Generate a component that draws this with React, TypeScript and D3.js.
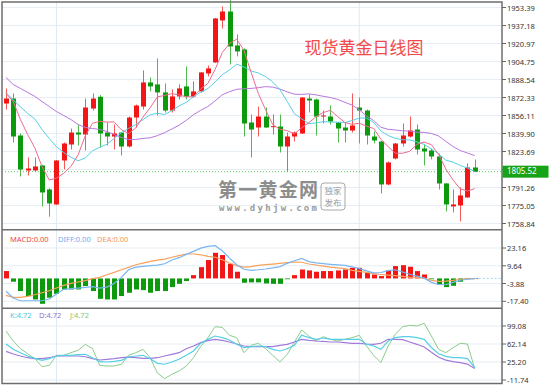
import React from 'react';
import * as d3 from 'd3';

// daily candles
const opens = [1866.9, 1871.4, 1838.1, 1806.6, 1806.6, 1811.1, 1789.5, 1776.0, 1815.6, 1830.0, 1840.8, 1839.0, 1862.4, 1873.0, 1840.8, 1837.2, 1840.8, 1828.2, 1854.3, 1864.2, 1885.9, 1884.1, 1876.9, 1860.6, 1873.3, 1882.3, 1873.3, 1877.8, 1894.0, 1903.9, 1941.7, 1949.8, 1919.2, 1915.6, 1849.8, 1845.3, 1855.2, 1846.0, 1846.2, 1828.2, 1837.2, 1839.9, 1871.4, 1870.5, 1855.2, 1855.2, 1849.8, 1845.3, 1842.6, 1863.3, 1860.6, 1837.2, 1832.7, 1794.0, 1817.4, 1830.9, 1837.2, 1843.5, 1826.4, 1824.6, 1819.2, 1794.9, 1774.2, 1775.1, 1782.3, 1809.3];
const highs = [1880.5, 1876.0, 1839.9, 1818.3, 1818.3, 1811.5, 1790.5, 1816.0, 1831.8, 1844.4, 1848.0, 1871.4, 1876.0, 1874.5, 1849.8, 1848.0, 1841.2, 1855.2, 1866.0, 1896.7, 1890.4, 1907.5, 1885.0, 1879.6, 1884.1, 1900.3, 1886.8, 1895.3, 1901.2, 1944.0, 1954.3, 1960.0, 1929.1, 1916.5, 1857.0, 1864.2, 1863.3, 1857.0, 1857.0, 1840.8, 1841.7, 1872.8, 1875.1, 1871.4, 1860.6, 1865.1, 1850.2, 1849.8, 1876.0, 1872.3, 1861.5, 1841.7, 1833.0, 1814.7, 1831.3, 1848.9, 1855.2, 1848.0, 1830.0, 1826.4, 1821.9, 1795.3, 1789.5, 1791.3, 1812.9, 1816.5];
const lows = [1861.5, 1831.8, 1801.2, 1802.1, 1805.7, 1774.2, 1765.0, 1775.5, 1807.5, 1825.5, 1829.1, 1824.6, 1860.6, 1827.3, 1829.1, 1825.5, 1820.1, 1827.3, 1845.3, 1861.5, 1877.8, 1856.1, 1858.8, 1858.8, 1870.5, 1870.5, 1872.3, 1876.9, 1891.3, 1903.5, 1934.5, 1902.1, 1909.3, 1837.2, 1818.3, 1837.2, 1845.0, 1839.0, 1822.8, 1805.7, 1832.7, 1839.5, 1858.8, 1838.1, 1849.0, 1848.0, 1831.8, 1831.8, 1840.8, 1830.9, 1830.0, 1830.9, 1785.9, 1793.1, 1816.5, 1828.2, 1836.3, 1821.0, 1811.1, 1816.5, 1789.5, 1769.7, 1768.8, 1760.7, 1782.0, 1805.2];
const closes = [1871.4, 1837.2, 1807.5, 1808.4, 1810.2, 1786.8, 1776.9, 1815.6, 1830.9, 1840.8, 1839.0, 1863.3, 1871.4, 1839.9, 1837.2, 1839.9, 1828.2, 1854.3, 1865.1, 1885.9, 1882.3, 1876.9, 1860.6, 1873.3, 1880.5, 1873.3, 1877.8, 1894.9, 1898.5, 1943.5, 1949.8, 1918.3, 1913.8, 1848.9, 1843.5, 1855.2, 1845.3, 1846.5, 1828.2, 1837.2, 1840.8, 1872.3, 1869.6, 1855.2, 1856.1, 1850.7, 1844.4, 1842.6, 1847.1, 1860.6, 1838.1, 1833.6, 1794.0, 1813.8, 1830.9, 1838.1, 1842.6, 1825.5, 1823.7, 1819.2, 1794.9, 1776.0, 1776.0, 1784.1, 1809.3, 1805.5];

const ma5 = [1876.0, 1868.7, 1852.5, 1839.0, 1826.9, 1810.0, 1798.0, 1799.6, 1804.1, 1810.2, 1820.6, 1837.9, 1849.1, 1850.9, 1850.2, 1850.3, 1843.3, 1839.9, 1844.9, 1854.7, 1863.2, 1872.9, 1874.2, 1875.8, 1874.7, 1872.9, 1873.1, 1880.0, 1885.0, 1897.6, 1912.9, 1921.0, 1924.8, 1914.9, 1894.9, 1875.9, 1861.3, 1847.9, 1843.7, 1842.5, 1839.6, 1845.0, 1849.6, 1855.0, 1858.8, 1860.8, 1855.2, 1849.8, 1848.2, 1849.1, 1846.6, 1844.4, 1834.7, 1828.0, 1822.1, 1822.1, 1823.9, 1830.2, 1832.2, 1829.8, 1821.2, 1807.9, 1798.0, 1790.0, 1788.1, 1790.2];
const ma10 = [1876.9, 1870.0, 1864.0, 1858.0, 1853.0, 1843.5, 1835.4, 1828.0, 1822.8, 1818.6, 1815.3, 1817.9, 1824.3, 1827.5, 1830.2, 1835.5, 1840.6, 1844.5, 1847.9, 1852.4, 1856.8, 1858.1, 1857.0, 1860.4, 1864.7, 1868.0, 1873.0, 1877.1, 1880.4, 1886.2, 1892.9, 1897.1, 1902.4, 1899.9, 1896.2, 1894.4, 1891.2, 1886.3, 1879.3, 1868.7, 1857.8, 1853.2, 1848.8, 1849.4, 1850.6, 1850.2, 1850.1, 1849.7, 1851.6, 1853.9, 1853.7, 1849.8, 1842.2, 1838.1, 1835.6, 1834.3, 1834.1, 1832.4, 1830.1, 1826.0, 1821.6, 1815.9, 1814.1, 1811.1, 1808.9, 1805.7];
const ma20 = [1890.3, 1884.1, 1880.5, 1876.9, 1873.3, 1868.7, 1864.2, 1859.7, 1856.1, 1852.5, 1848.0, 1845.3, 1844.4, 1843.5, 1841.7, 1839.0, 1836.3, 1834.5, 1834.5, 1835.5, 1836.0, 1838.0, 1840.7, 1843.9, 1847.4, 1851.8, 1856.8, 1860.8, 1864.2, 1869.3, 1874.8, 1877.6, 1879.7, 1880.2, 1880.5, 1881.2, 1882.1, 1881.7, 1879.9, 1877.4, 1875.3, 1875.1, 1875.6, 1874.7, 1873.4, 1872.3, 1870.6, 1868.0, 1865.5, 1861.3, 1855.7, 1851.5, 1845.5, 1843.7, 1843.1, 1842.3, 1842.1, 1841.1, 1840.9, 1840.0, 1837.7, 1832.8, 1828.2, 1824.6, 1822.3, 1820.0];

const macdHist = [5.6, -2.5, -9.6, -13.4, -16.0, -19.3, -14.7, -11.7, -8.4, -8.4, -8.4, -5.8, -9.6, -15.5, -16.0, -16.0, -13.4, -10.9, -8.4, -8.9, -10.9, -9.6, -9.6, -6.6, -4.1, -2.0, 2.5, 8.6, 14.0, 19.5, 17.8, 11.2, 5.1, -3.3, -3.0, -3.0, -3.8, -4.1, -4.1, -0.6, 2.5, 6.8, 6.1, 5.1, 5.6, 5.6, 6.1, 6.8, 8.1, 8.1, 4.3, 3.0, 1.8, 6.1, 9.4, 10.1, 8.9, 5.6, 3.0, -0.4, -4.6, -6.6, -5.6, -2.5, -0.5, 0.2];
const diffLine = [-9.8, -14.9, -17.0, -17.0, -17.0, -17.0, -15.7, -11.9, -8.3, -7.8, -7.3, -6.8, -6.3, -7.3, -6.6, -3.8, 0.8, 6.6, 8.6, 9.2, 9.7, 10.2, 11.2, 14.0, 15.8, 18.3, 20.6, 23.1, 24.4, 24.9, 21.1, 15.5, 10.4, 7.0, 6.2, 6.6, 7.2, 8.0, 9.0, 11.5, 13.5, 15.2, 12.8, 11.8, 11.2, 10.7, 10.3, 10.0, 8.8, 7.5, 5.7, 4.2, 4.5, 5.9, 6.6, 4.9, 3.2, 1.7, 0.2, -3.0, -4.6, -4.8, -3.0, -1.4, -0.6, -0.2];
const deaLine = [-12.9, -14.4, -14.4, -13.6, -12.4, -10.9, -9.4, -7.3, -5.3, -3.8, -2.7, -1.7, -0.2, 0.8, 2.8, 4.6, 6.6, 8.4, 10.4, 11.7, 13.0, 14.0, 14.7, 16.1, 17.3, 18.6, 18.6, 18.0, 16.8, 16.1, 14.2, 11.7, 9.8, 8.6, 9.0, 10.0, 10.5, 10.9, 11.4, 12.0, 12.5, 12.3, 11.0, 10.2, 9.4, 8.6, 8.0, 7.4, 6.2, 5.4, 4.6, 3.6, 3.0, 2.5, 2.1, 1.6, 1.0, 0.6, 0.3, -1.5, -2.2, -2.0, -1.5, -0.6, -0.2, -0.2];

const kLine = [62.0, 51.2, 44.3, 37.5, 32.7, 28.6, 32.0, 37.5, 38.9, 38.9, 40.2, 41.0, 34.0, 25.9, 25.2, 26.6, 28.6, 35.4, 37.5, 38.9, 32.0, 22.5, 20.6, 25.2, 30.7, 38.9, 47.8, 63.6, 71.7, 78.5, 75.1, 70.3, 61.5, 54.6, 56.7, 58.0, 56.7, 51.2, 47.8, 52.5, 59.5, 80.0, 75.1, 71.7, 74.4, 71.7, 71.7, 71.7, 71.7, 71.7, 61.5, 58.0, 51.2, 68.3, 75.1, 77.1, 77.1, 75.1, 71.7, 55.0, 42.0, 36.7, 34.0, 34.0, 32.0, 14.0];
const dLine = [47.0, 41.6, 37.5, 34.0, 32.0, 32.0, 34.0, 37.5, 38.2, 37.5, 37.5, 36.0, 32.0, 29.3, 30.7, 32.0, 34.0, 35.4, 34.0, 32.7, 32.7, 34.0, 37.5, 41.0, 44.3, 52.5, 58.0, 64.9, 69.0, 71.7, 69.6, 66.2, 62.1, 58.0, 56.7, 56.7, 56.7, 56.7, 59.5, 61.5, 66.2, 71.7, 69.6, 68.3, 67.6, 66.2, 66.2, 64.9, 63.6, 63.6, 62.1, 61.5, 63.6, 71.7, 71.7, 71.0, 66.2, 61.5, 56.0, 45.0, 35.0, 29.0, 26.0, 24.0, 21.0, 12.0];
const jLine = [88.8, 68.3, 52.5, 42.3, 32.0, 15.6, 18.3, 38.9, 38.9, 44.3, 49.2, 61.5, 52.5, 18.3, 17.0, 17.0, 20.4, 38.9, 44.3, 51.2, 34.0, 2.6, -9.0, -0.1, 6.7, 17.0, 34.0, 56.7, 75.1, 97.7, 96.3, 80.0, 75.1, 44.3, 59.5, 63.6, 52.5, 38.9, 25.2, 40.9, 65.5, 90.9, 78.5, 68.3, 77.1, 71.7, 68.3, 71.7, 75.1, 80.0, 58.0, 38.9, 23.9, 58.0, 82.0, 97.7, 100.5, 99.1, 104.6, 78.5, 51.2, 44.3, 54.6, 63.6, 62.1, 12.0];

const priceTicks = [1953.39, 1937.18, 1920.97, 1904.75, 1888.54, 1872.33, 1856.11, 1839.90, 1823.69, 1807.48, 1791.26, 1775.05, 1758.84];
const macdTicks = [23.16, 9.64, -3.88, -17.40];
const kdjTicks = [99.08, 62.14, 25.20, -11.74];
const lastPrice = 1805.52;
const monthStarts = [7, 49];

const RED = '#f21616';
const GREEN = '#0c9a0c';
const LEFT = 2;
const RIGHT = 502;
const FONT = '"Noto Sans", sans-serif';
const CJK = '"Noto Sans CJK SC", sans-serif';

const App: React.FC = () => {
  const x = d3.scaleLinear().domain([0, 65]).range([6, 474.65]);
  const yMain = d3.scaleLinear().domain([1758.84, 1953.39]).range([223.5, 7.5]);
  const yMacd = d3.scaleLinear().domain([-17.4, 23.16]).range([301.3, 248]);
  const yKdj = d3.scaleLinear().domain([-11.74, 99.08]).range([380, 326]);

  const path = (scale: d3.ScaleLinear<number, number>, arr: number[]) =>
    d3.line<number>().x((_, i) => x(i)).y(d => scale(d))(arr) || '';

  const bodyW = 5;
  const grid = '#e6edf3';
  // the tag covers the label of the tick it sits on
  const hiddenTick = priceTicks.find(t => Math.abs(yMain(t) - yMain(lastPrice)) < 6);

  return (
    <svg width={550} height={385} style={{ position: 'absolute', left: 0, top: 0, background: '#fff' }}>
      {/* horizontal grid */}
      {priceTicks.map(t => (
        <line key={'gp' + t} x1={LEFT} x2={RIGHT} y1={yMain(t)} y2={yMain(t)} stroke={grid} />
      ))}
      {macdTicks.map(t => (
        <line key={'gm' + t} x1={LEFT} x2={RIGHT} y1={yMacd(t)} y2={yMacd(t)} stroke={grid} />
      ))}
      {kdjTicks.map(t => (
        <line key={'gk' + t} x1={LEFT} x2={RIGHT} y1={yKdj(t)} y2={yKdj(t)} stroke={grid} />
      ))}
      {monthStarts.map(i => (
        <line key={'v' + i} x1={x(i)} x2={x(i)} y1={2} y2={383.5} stroke="#dfeaf2" />
      ))}

      {/* watermark */}
      <g fill="#7a7a7a" opacity={0.85}>
        <text x={218} y={197} fontSize={19} fontWeight="bold" fontFamily={CJK} textLength={100}>第一黄金网</text>
        <text x={219} y={211} fontSize={9} fontWeight="bold" fontFamily='"DejaVu Sans Mono", monospace' textLength={98} fill="#8a8a8a">www.dyhjw.com</text>
        <rect x={321} y={183} width={24} height={27} rx={3} fill="none" stroke="#9a9a9a" strokeWidth={1} />
        <text x={333} y={194} fontSize={8.5} textAnchor="middle" fontFamily={CJK} fill="#8a8a8a">独家</text>
        <text x={333} y={206} fontSize={8.5} textAnchor="middle" fontFamily={CJK} fill="#8a8a8a">发布</text>
      </g>

      <text x={364} y={54} fontSize={17} textAnchor="middle" fill="#f24a4a" fontFamily={CJK}>现货黄金日线图</text>

      {/* last price line */}
      <line x1={LEFT} x2={RIGHT} y1={yMain(lastPrice)} y2={yMain(lastPrice)} stroke="#55c455" strokeDasharray="1,2" />

      {/* candles */}
      {closes.map((c, i) => {
        const o = opens[i];
        const up = c >= o;
        const top = yMain(Math.max(o, c));
        const h = Math.max(1, yMain(Math.min(o, c)) - top);
        const cx = Math.round(x(i)) + 0.5;
        return (
          <g key={'c' + i}>
            <line x1={cx} x2={cx} y1={yMain(highs[i])} y2={yMain(lows[i])} stroke={up ? '#f55a5a' : '#4fb84f'} />
            <rect x={cx - bodyW / 2} y={top} width={bodyW} height={h} fill={up ? RED : GREEN} />
          </g>
        );
      })}

      <path d={path(yMain, ma20)} fill="none" stroke="#b878dc" strokeWidth={1} />
      <path d={path(yMain, ma10)} fill="none" stroke="#56d0e4" strokeWidth={1} />
      <path d={path(yMain, ma5)} fill="none" stroke="#f06a90" strokeWidth={1} />

      {/* MACD */}
      {macdHist.map((v, i) => {
        const y0 = yMacd(0);
        const y1 = yMacd(v);
        return (
          <rect key={'h' + i} x={Math.round(x(i)) + 0.5 - bodyW / 2} y={Math.min(y0, y1)} width={bodyW}
            height={Math.max(0.8, Math.abs(y1 - y0))} fill={v >= 0 ? RED : GREEN} />
        );
      })}
      <line x1={x(65)} x2={RIGHT} y1={yMacd(0)} y2={yMacd(0)} stroke="#9fd8ef" strokeDasharray="2,2" />
      <path d={path(yMacd, deaLine)} fill="none" stroke="#f7a15e" strokeWidth={1.2} />
      <path d={path(yMacd, diffLine)} fill="none" stroke="#7ab6f2" strokeWidth={1.2} />

      {/* KDJ */}
      <path d={path(yKdj, jLine)} fill="none" stroke="#8ccc8c" strokeWidth={1} />
      <path d={path(yKdj, dLine)} fill="none" stroke="#a27ada" strokeWidth={1.2} />
      <path d={path(yKdj, kLine)} fill="none" stroke="#55cfe6" strokeWidth={1.2} />

      {/* legends */}
      <g fontSize={7.5} fontFamily={FONT}>
        <text x={10} y={241.5} fill="#f04848">MACD:0.00</text>
        <text x={58} y={241.5} fill="#6aaef0">DIFF:0.00</text>
        <text x={97} y={241.5} fill="#f5985a">DEA:0.00</text>
        <text x={10} y={317.5} fill="#4cc6e0">K:4.72</text>
        <text x={39} y={317.5} fill="#9272d4">D:4.72</text>
        <text x={70} y={317.5} fill="#80c880">J:4.72</text>
      </g>

      {/* frame */}
      <rect x={LEFT} y={2} width={RIGHT - LEFT} height={381.5} fill="none" stroke="#6e6e6e" strokeWidth={1.5} />
      <line x1={LEFT} x2={RIGHT} y1={229.7} y2={229.7} stroke="#6e6e6e" strokeWidth={1.5} />
      <line x1={LEFT} x2={RIGHT} y1={308.3} y2={308.3} stroke="#6e6e6e" strokeWidth={1.5} />

      {/* right axes */}
      <g fontSize={7.5} fontFamily={FONT} fill="#333">
        {priceTicks.map(t => (
          <g key={'lp' + t}>
            <line x1={RIGHT} x2={RIGHT + 4} y1={yMain(t)} y2={yMain(t)} stroke="#666" />
            {t !== hiddenTick && (
              <text x={507} y={yMain(t) + 1} dominantBaseline="middle">{t.toFixed(2)}</text>
            )}
          </g>
        ))}
        {macdTicks.map(t => (
          <g key={'lm' + t}>
            <line x1={RIGHT} x2={RIGHT + 4} y1={yMacd(t)} y2={yMacd(t)} stroke="#666" />
            <text x={507} y={yMacd(t) + 1} dominantBaseline="middle">{t.toFixed(2)}</text>
          </g>
        ))}
        {kdjTicks.map(t => (
          <g key={'lk' + t}>
            <line x1={RIGHT} x2={RIGHT + 4} y1={yKdj(t)} y2={yKdj(t)} stroke="#666" />
            <text x={507} y={yKdj(t) + 1} dominantBaseline="middle">{t.toFixed(2)}</text>
          </g>
        ))}
      </g>

      {/* last price tag */}
      <rect x={502.5} y={yMain(lastPrice) - 6} width={46} height={12} fill="#17a317" />
      <text x={507} y={yMain(lastPrice) + 0.5} dominantBaseline="middle" fontSize={8} fontFamily={FONT} fill="#fff">
        {lastPrice.toFixed(2)}
      </text>
    </svg>
  );
};

export default App;
